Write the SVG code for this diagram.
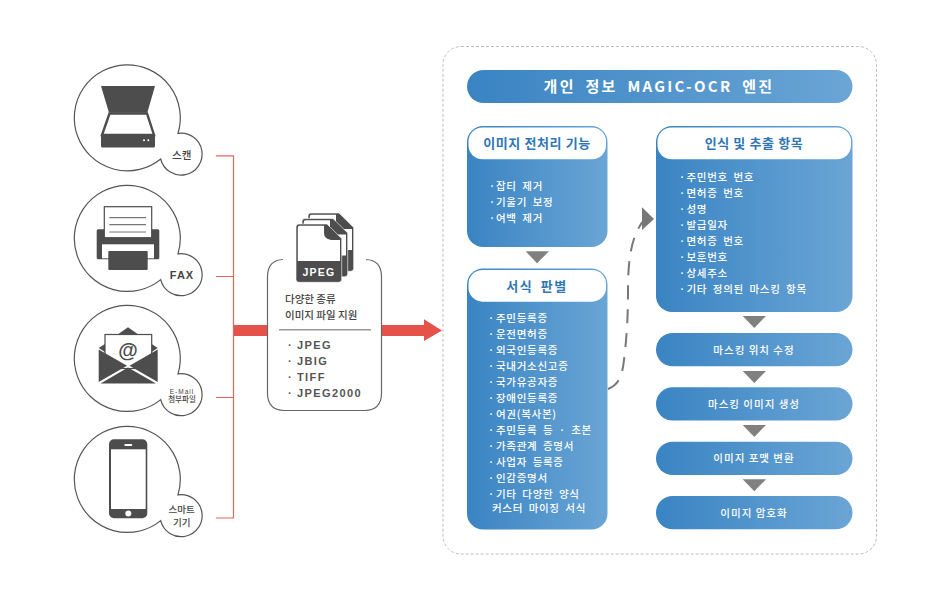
<svg xmlns="http://www.w3.org/2000/svg" width="950" height="600" viewBox="0 0 950 600">
<style>
text{font-family:"Noto Sans CJK KR","Noto Sans",sans-serif}
.b{fill:url(#g)}
.item{font-size:10.5px;font-weight:500;fill:#fff;letter-spacing:.7px;word-spacing:2.5px}
.hd{font-size:13px;font-weight:700;fill:#2f76b5;text-anchor:middle;letter-spacing:.6px}
.bar{font-size:10.5px;font-weight:500;fill:#fff;text-anchor:middle;letter-spacing:1px}
.lb{fill:#444;text-anchor:middle;font-weight:500}
.dk{fill:#4d4d4d}
.tri{fill:#808080}
.red{fill:none;stroke:#e8645c;stroke-width:1.2}
.fmt{font-family:"Liberation Sans",sans-serif;font-size:11px;font-weight:700;fill:#555;letter-spacing:1.4px}
</style>
<defs>
<linearGradient id="g" x1="0" y1="0" x2="1" y2="0"><stop offset="0" stop-color="#3a84c3"/><stop offset="1" stop-color="#6aa5d5"/></linearGradient>
<path id="bub" d="M32.4 42.3A53 53 0 1 1 49.7 16.6A21 21 0 1 1 32.4 42.3Z" fill="#fff" stroke="#555" stroke-width="1.2"/>
<g id="doc">
<path class="dk" d="M0 3Q0 0 3 0H31L45.700 14.500V55.300Q45.700 58.300 42.700 58.300H3Q0 58.300 0 55.300Z" stroke="#fff" stroke-width=".6"/>
<path fill="#fff" d="M1.800 3.500Q1.800 1.800 3.500 1.800H28V9Q28 14.500 35 16H44V37H1.800Z"/>
</g>
</defs>
<rect x="443" y="46.500" width="433.500" height="507.500" rx="18" fill="#fff" stroke="#bdbdbd" stroke-width="1" stroke-dasharray="3 2"/>
<g id="connectors">
<path class="red" d="M216 155.800H233.500V518H216M216 276.500H233.500M216 397.500H233.500"/>
<rect x="234" y="325" width="34" height="11" fill="#e5524a"/>
<path d="M381 325H424V319.300L442 330.500L424 341V336H381Z" fill="#e5524a"/>
<path d="M608 389C618 385 622 378 624 360C627 335 628 315 628 290C628 265 630 235 645 219" fill="none" stroke="#777" stroke-width="2" stroke-dasharray="14 10"/>
<path d="M642 207.300L654 219L642 230Z" fill="#777"/>
<path class="tri" d="M525.700 251.300H549L537 263.300Z"/>
<path class="tri" d="M742.700 316H766L754.300 328Z"/>
<path class="tri" d="M742.700 371H766L754.300 383Z"/>
<path class="tri" d="M742.700 425H766L754.300 437Z"/>
<path class="tri" d="M742.700 479.300H766L754.300 491.300Z"/>
</g>
<g id="scan">
<use href="#bub" x="128.300" y="116.700"/>
<path class="dk" d="M101 86H155L147.300 112.700H109Z"/>
<path d="M109.500 113.500H147L154 135H102Z" fill="#fff" stroke="#4d4d4d" stroke-width="2.400"/>
<rect class="dk" x="101" y="135" width="54" height="12.500" rx="1.500"/>
<circle cx="144" cy="140.300" r="1" fill="#fff"/><circle cx="148.300" cy="140.300" r="1" fill="#fff"/>
<text class="lb" x="181.700" y="159" font-size="10.500">스캔</text>
</g>
<g id="fax">
<use href="#bub" x="128.300" y="237.300"/>
<rect class="dk" x="96.700" y="229.300" width="62.600" height="30" rx="1.500"/>
<rect x="102" y="244.300" width="52" height="14" fill="#fff"/>
<rect x="104.300" y="206.700" width="47.400" height="31" fill="#fff" stroke="#4d4d4d" stroke-width="1.200"/>
<path d="M109.300 217.700H146M109.300 224.700H146M109.300 232H146" stroke="#777" stroke-width="1.200"/>
<rect class="dk" x="108.300" y="251" width="39.400" height="19" rx="1"/>
<text class="lb" x="182" y="279" font-size="11" style="font-family:'Liberation Sans',sans-serif;letter-spacing:1px;font-weight:700">FAX</text>
</g>
<g id="email">
<use href="#bub" x="128.300" y="357.300"/>
<path class="dk" d="M128 327.300L138 334.300H118Z"/>
<path class="dk" d="M98.700 348L105 344V352ZM157.700 348L151.700 344V352Z"/>
<rect x="105" y="334.500" width="46.700" height="34" fill="#fff" stroke="#4d4d4d" stroke-width="1.200"/>
<path class="dk" d="M98.700 349.500L127 365.700L98.700 382ZM157.700 349.500L129.500 365.700L157.700 382ZM100.500 383.500L128 367.500L156 383.500Z"/>
<text x="128" y="357" font-size="20" text-anchor="middle" fill="#4d4d4d" style="font-family:'Liberation Sans',sans-serif;font-weight:700">@</text>
<text class="lb" x="182" y="393.700" font-size="6.500" style="font-family:'Liberation Sans',sans-serif;letter-spacing:1px">E-Mail</text>
<text class="lb" x="182" y="402" font-size="7.500">첨부파일</text>
</g>
<g id="phone">
<use href="#bub" x="128.300" y="478.300"/>
<rect class="dk" x="109" y="439.300" width="38.300" height="79" rx="5"/>
<rect x="111" y="449.300" width="34.700" height="59.700" fill="#fff"/>
<rect x="124.300" y="444" width="8" height="2" rx="1" fill="#fff"/>
<circle cx="128.300" cy="513.500" r="3" fill="#fff"/>
<text class="lb" x="181.700" y="513" font-size="9.500">스마트</text>
<text class="lb" x="181.700" y="525.500" font-size="9.500">기기</text>
</g>
<g id="files">
<path d="M283 259.500Q268 260 267.500 276V394Q268 410 284 410.500H365Q381 410 381.500 394V276Q381 260 366 259.500" fill="#fff" stroke="#666" stroke-width="1.200"/>
<use href="#doc" x="308" y="213"/>
<use href="#doc" x="302" y="218.500"/>
<use href="#doc" x="296" y="224"/>
<text x="319" y="275.500" font-size="10.500" fill="#fff" text-anchor="middle" style="font-family:'Liberation Sans',sans-serif;font-weight:700;letter-spacing:1.200px">JPEG</text>
<text x="285" y="303" font-size="10.500" font-weight="500" fill="#444">다양한 종류</text>
<text x="285" y="319" font-size="10.500" font-weight="500" fill="#444">이미지 파일 지원</text>
<path d="M279 329.700H371" stroke="#999" stroke-width="1.500"/>
<text class="fmt" x="288" y="349">·<tspan x="297">JPEG</tspan></text>
<text class="fmt" x="288" y="365">·<tspan x="297">JBIG</tspan></text>
<text class="fmt" x="288" y="381">·<tspan x="297">TIFF</tspan></text>
<text class="fmt" x="288" y="397">·<tspan x="297">JPEG2000</tspan></text>
</g>
<g id="title">
<rect class="b" x="467" y="70" width="385.500" height="33" rx="16.500"/>
<text x="659" y="92" font-size="15" font-weight="700" fill="#fff" text-anchor="middle" letter-spacing="2.300" word-spacing="4">개인 정보 MAGIC-OCR 엔진</text>
</g>
<g id="preprocess">
<rect class="b" x="467" y="126" width="140.500" height="121" rx="16"/>
<rect x="468.500" y="127.500" width="137.500" height="31.800" rx="14" fill="#fff"/>
<text class="hd" x="537" y="148">이미지 전처리 기능</text>
<text class="item" x="489" y="190">·<tspan x="496">잡티 제거</tspan></text>
<text class="item" x="489" y="206">·<tspan x="496">기울기 보정</tspan></text>
<text class="item" x="489" y="222">·<tspan x="496">여백 제거</tspan></text>
</g>
<g id="format">
<rect class="b" x="467" y="268.500" width="140.500" height="261" rx="16"/>
<rect x="468.500" y="270" width="137.500" height="31.700" rx="14" fill="#fff"/>
<text class="hd" x="537" y="291" style="letter-spacing:1.500px;word-spacing:3px">서식 판별</text>
<text class="item" x="488" y="322">·<tspan x="496">주민등록증</tspan></text>
<text class="item" x="488" y="338">·<tspan x="496">운전면허증</tspan></text>
<text class="item" x="488" y="354">·<tspan x="496">외국인등록증</tspan></text>
<text class="item" x="488" y="370">·<tspan x="496">국내거소신고증</tspan></text>
<text class="item" x="488" y="386">·<tspan x="496">국가유공자증</tspan></text>
<text class="item" x="488" y="402">·<tspan x="496">장애인등록증</tspan></text>
<text class="item" x="488" y="418">·<tspan x="496">여권(복사본)</tspan></text>
<text class="item" x="488" y="434">·<tspan x="496">주민등록 등 · 초본</tspan></text>
<text class="item" x="488" y="450">·<tspan x="496">가족관계 증명서</tspan></text>
<text class="item" x="488" y="466">·<tspan x="496">사업자 등록증</tspan></text>
<text class="item" x="488" y="482">·<tspan x="496">인감증명서</tspan></text>
<text class="item" x="488" y="498">·<tspan x="496">기타 다양한 양식</tspan></text>
<text class="item" x="492" y="511.500">커스터 마이징 서식</text>
</g>
<g id="extract">
<rect class="b" x="656" y="126" width="196.500" height="186" rx="16"/>
<rect x="657.500" y="127.500" width="193.500" height="31.800" rx="14" fill="#fff"/>
<text class="hd" x="754" y="148">인식 및 추출 항목</text>
<text class="item" x="679" y="181">·<tspan x="686.500">주민번호 번호</tspan></text>
<text class="item" x="679" y="197">·<tspan x="686.500">면허증 번호</tspan></text>
<text class="item" x="679" y="213">·<tspan x="686.500">성명</tspan></text>
<text class="item" x="679" y="229">·<tspan x="686.500">발급일자</tspan></text>
<text class="item" x="679" y="245">·<tspan x="686.500">면허증 번호</tspan></text>
<text class="item" x="679" y="261">·<tspan x="686.500">보훈번호</tspan></text>
<text class="item" x="679" y="277">·<tspan x="686.500">상세주소</tspan></text>
<text class="item" x="679" y="293">·<tspan x="686.500">기타 정의된 마스킹 항목</tspan></text>
</g>
<g id="step1"><rect class="b" x="656" y="333" width="196.500" height="33.300" rx="16.600"/><text class="bar" x="754" y="354">마스킹 위치 수정</text></g>
<g id="step2"><rect class="b" x="656" y="387.300" width="196.500" height="33.300" rx="16.600"/><text class="bar" x="754" y="408">마스킹 이미지 생성</text></g>
<g id="step3"><rect class="b" x="656" y="441.700" width="196.500" height="33.300" rx="16.600"/><text class="bar" x="754" y="462">이미지 포맷 변환</text></g>
<g id="step4"><rect class="b" x="656" y="496" width="196.500" height="33.300" rx="16.600"/><text class="bar" x="754" y="516.500">이미지 암호화</text></g>
</svg>
